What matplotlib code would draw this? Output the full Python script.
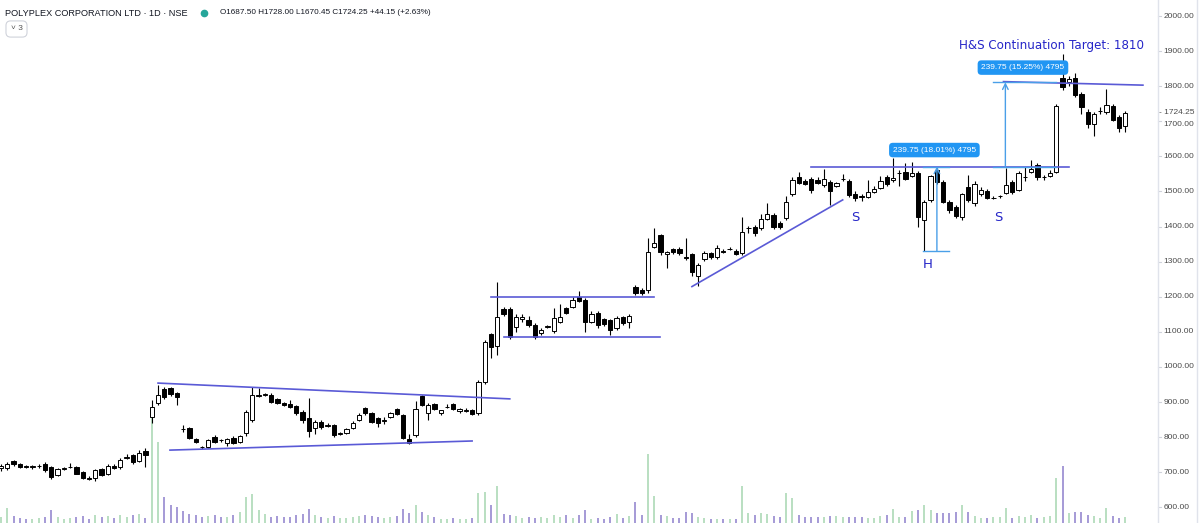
import matplotlib
matplotlib.use("Agg")
import matplotlib.pyplot as plt
import numpy as np

plt.rcParams['font.family'] = ['Liberation Sans', 'DejaVu Sans']

# daily candles
opens = [711, 711, 731, 722, 716, 715, 717, 724, 714, 691, 710, 714, 714, 701, 683, 683, 708, 696, 718, 714,
         741, 748, 731, 760, 858, 898, 936, 940, 926, 824, 826, 794, 772, 771, 800, 793, 784, 797, 786, 811,
         848, 918, 921, 920, 908, 897, 894, 888, 871, 854, 826, 843, 833, 834, 810, 811, 826, 848, 882, 868,
         854, 847, 857, 879, 863, 794, 806, 917, 868, 894, 868, 885, 894, 874, 875, 876, 868, 957, 1094, 1059,
         1165, 1165, 1114, 1136, 1134, 1119, 1096, 1115, 1102, 1128, 1168, 1171, 1199, 1191, 1128, 1154, 1136, 1134, 1111, 1142,
         1128, 1228, 1219, 1219, 1342, 1376, 1322, 1336, 1336, 1313, 1322, 1259, 1307, 1324, 1313, 1331, 1335, 1331, 1324, 1395,
         1399, 1396, 1421, 1433, 1410, 1424, 1493, 1541, 1530, 1536, 1533, 1519, 1527, 1516, 1535, 1530, 1493, 1486, 1485, 1499,
         1510, 1541, 1534, 1552, 1556, 1544, 1553, 1419, 1476, 1561, 1527, 1470, 1456, 1427, 1513, 1467, 1493, 1501, 1481, 1486,
         1496, 1527, 1504, 1540, 1556, 1576, 1540, 1544, 1556, 1823, 1812, 1823, 1778, 1727, 1692, 1728, 1727, 1744, 1713, 1687.5]
highs = [724, 728, 736, 726, 721, 720, 723, 728, 718, 712, 715, 726, 718, 704, 688, 710, 711, 724, 722, 740,
         752, 752, 764, 768, 905, 948, 942, 944, 930, 834, 830, 798, 776, 796, 806, 796, 798, 802, 806, 876,
         942, 940, 926, 926, 912, 900, 906, 892, 876, 911, 848, 848, 840, 838, 815, 826, 846, 870, 886, 872,
         858, 856, 872, 884, 866, 808, 902, 920, 896, 898, 878, 894, 898, 884, 882, 880, 962, 1076, 1098, 1242,
         1172, 1170, 1150, 1152, 1144, 1126, 1110, 1120, 1168, 1180, 1172, 1198, 1216, 1196, 1160, 1158, 1140, 1138, 1145, 1146,
         1152, 1233, 1224, 1367, 1396, 1380, 1330, 1340, 1342, 1367, 1326, 1296, 1330, 1328, 1348, 1336, 1342, 1336, 1427, 1402,
         1404, 1436, 1467, 1440, 1416, 1487, 1540, 1556, 1536, 1542, 1540, 1564, 1532, 1528, 1550, 1536, 1500, 1492, 1533, 1516,
         1544, 1548, 1595, 1560, 1581, 1584, 1558, 1476, 1548, 1571, 1532, 1476, 1462, 1496, 1547, 1530, 1512, 1506, 1488, 1490,
         1567, 1532, 1558, 1570, 1590, 1580, 1548, 1560, 1748, 1892, 1830, 1839, 1784, 1734, 1726, 1740, 1792, 1750, 1718, 1728]
lows = [704, 706, 718, 712, 711, 710, 712, 702, 681, 688, 706, 711, 694, 680, 678, 676, 688, 692, 708, 710,
        737, 724, 728, 714, 840, 892, 910, 918, 891, 816, 794, 783, 766, 768, 782, 786, 776, 780, 782, 804,
        842, 914, 916, 898, 895, 888, 884, 864, 840, 800, 808, 824, 830, 800, 806, 808, 822, 845, 864, 840,
        828, 838, 854, 862, 795, 779, 800, 888, 848, 876, 864, 882, 876, 870, 872, 862, 864, 952, 1025, 1034,
        1146, 1080, 1100, 1128, 1114, 1080, 1090, 1112, 1098, 1124, 1150, 1168, 1184, 1100, 1124, 1112, 1118, 1090, 1104, 1120,
        1112, 1206, 1204, 1212, 1338, 1320, 1282, 1322, 1320, 1304, 1258, 1232, 1302, 1308, 1308, 1324, 1332, 1318, 1320, 1382,
        1374, 1390, 1418, 1394, 1394, 1420, 1488, 1520, 1518, 1496, 1520, 1512, 1461, 1512, 1530, 1484, 1472, 1474, 1482, 1496,
        1506, 1516, 1528, 1516, 1532, 1540, 1399, 1331, 1470, 1520, 1466, 1440, 1424, 1419, 1470, 1460, 1488, 1478, 1478, 1482,
        1492, 1494, 1500, 1530, 1552, 1534, 1532, 1540, 1552, 1790, 1800, 1770, 1720, 1680, 1659, 1722, 1722, 1702, 1670, 1670.45]
closes = [718, 724, 724, 716, 715, 716, 718, 706, 686, 708, 711, 716, 696, 684, 682, 706, 691, 719, 712, 736,
          742, 728, 754, 748, 886, 921, 914, 923, 914, 823, 797, 786, 771, 791, 786, 791, 794, 783, 803, 871,
          919, 920, 922, 900, 898, 891, 886, 868, 848, 817, 843, 828, 834, 806, 811, 823, 840, 863, 868, 843,
          840, 848, 868, 866, 797, 783, 879, 891, 891, 880, 876, 886, 880, 880, 876, 866, 958, 1071, 1056, 1142,
          1151, 1085, 1142, 1142, 1119, 1085, 1105, 1116, 1139, 1142, 1154, 1191, 1188, 1128, 1151, 1119, 1122, 1105, 1139, 1125,
          1145, 1211, 1211, 1327, 1353, 1327, 1327, 1327, 1324, 1310, 1271, 1290, 1325, 1313, 1339, 1328, 1336, 1322, 1384, 1396,
          1382, 1421, 1436, 1399, 1399, 1470, 1533, 1524, 1522, 1504, 1524, 1536, 1501, 1524, 1536, 1490, 1482, 1484, 1499, 1507,
          1530, 1521, 1537, 1554, 1536, 1553, 1427, 1470, 1544, 1527, 1470, 1447, 1430, 1493, 1476, 1521, 1504, 1482, 1482, 1487,
          1518, 1498, 1553, 1541, 1564, 1541, 1541, 1553, 1744, 1798, 1821, 1776, 1741, 1692, 1721, 1730, 1747, 1704, 1680.1, 1724.25]
# volume in thousands of shares
volumes = [60, 150, 70, 50, 40, 40, 50, 60, 130, 60, 40, 50, 60, 70, 40, 80, 60, 70, 50, 80, 60, 80, 90, 50,
           1130, 810, 260, 180, 160, 120, 90, 80, 60, 70, 80, 60, 60, 80, 110, 260,
           290, 130, 90, 60, 70, 60, 60, 80, 90, 140, 80, 60, 50, 70, 50, 50, 60, 70, 80, 70, 60, 50, 60, 70, 140, 100, 180, 110, 80, 60,
           40, 40, 50, 40, 40, 50, 300, 310, 180, 370, 90, 80, 70, 50, 60, 50, 60, 50, 80, 60, 80, 50, 80, 130, 40, 50, 40, 60, 90, 50,
           70, 210, 80, 690, 270, 80, 70, 50, 50, 110, 100, 60, 50, 40, 40, 40, 40, 40, 370, 100, 80, 100, 90, 70, 60, 300, 250, 80, 60, 60,
           60, 60, 70, 70, 60, 60, 60, 60, 50, 50, 70, 80, 140, 60, 60, 120, 130, 180, 130, 100, 100, 100, 110, 180, 110, 70, 50, 50, 60, 60,
           150, 50, 70, 60, 80, 50, 60, 70, 450, 570, 100, 110, 110, 80, 70, 50, 150, 70, 50, 60]

price_ticks = [2000, 1900, 1800, 1700, 1600, 1500, 1400, 1300, 1200, 1100, 1000, 900, 800, 700, 600]
last_price = 1724.25

# drawn trendlines (start index, start price, end index, end price)
trendlines = [
    (25.0, 954, 81.0, 909),
    (26.9, 763, 75.0, 789),
    (78.0, 1200, 103.9, 1200),
    (80.0, 1084, 104.9, 1084),
    (110.0, 1229, 134.0, 1476),
    (129.0, 1571, 170.0, 1571),
    (159.6, 1813, 181.8, 1803),
]
pattern_labels = [("S", 136.0, 1427), ("H", 147.5, 1293), ("S", 158.8, 1427)]
neckline = 1571
head_low = 1331
target = 1811

W, H = 1200, 523
fig = plt.figure(figsize=(W / 100, H / 100), dpi=100)
rect = [0, 0, 1158 / W, 1]

axv = fig.add_axes(rect)
ax = fig.add_axes(rect)
ax.patch.set_alpha(0)

n = len(closes)
idx = np.arange(n)
o = np.array(opens); c = np.array(closes); hi = np.array(highs); lo = np.array(lows)
up = c >= o

# volume
vcol = np.where(up, '#a6d6b0', '#8d7fcc')
axv.vlines(idx, 0, volumes, colors=vcol, lw=1.1, snap=True)
axv.set_ylim(0, 5230)
axv.set_xlim(-0.16, 184.2)
axv.axis('off')

# candles
ax.vlines(idx, lo, hi, colors='black', lw=0.8, zorder=2)
body_lo = np.minimum(o, c)
body_h = np.maximum(np.abs(c - o), 1.5)
ax.bar(idx[up], body_h[up], 0.68, bottom=body_lo[up], facecolor='white', edgecolor='black', lw=0.7, zorder=3)
ax.bar(idx[~up], body_h[~up], 0.68, bottom=body_lo[~up], facecolor='black', edgecolor='black', lw=0.7, zorder=3)

ax.set_xlim(-0.16, 184.2)
ax.set_ylim(555.3, 2045.6)
ax.axis('off')

line_col = '#5a5ad6'
for x0, y0, x1, y1 in trendlines:
    ax.plot([x0, x1], [y0, y1], color=line_col, lw=1.2, zorder=4)

for t, x, y in pattern_labels:
    ax.text(x, y, t, color='#2626c8', fontsize=9.5, ha='center', va='center', family='DejaVu Sans')

ax.text(167.3, 1917, "H&S Continuation Target: 1810", color='#2626c8', fontsize=8.6,
        ha='center', va='center', family='DejaVu Sans')

# price range tools
meas_col = '#4a9fe8'
for xc, x0, x1, bottom, top, lbl, ly in [
        (149.0, 146.8, 151.0, head_low, neckline, "239.75 (18.01%) 4795", 1618),
        (159.9, 158.0, 168.0, neckline, target, "239.75 (15.25%) 4795", 1853)]:
    ax.plot([x0, x1], [bottom, bottom], color=meas_col, lw=1, zorder=4)
    ax.plot([x0, x1], [top, top], color=meas_col, lw=1, zorder=4)
    ax.annotate('', xy=(xc, top), xytext=(xc, bottom),
                arrowprops=dict(arrowstyle='->', color=meas_col, lw=1, shrinkA=0, shrinkB=0), zorder=4)
    ax.text((x0 + x1) / 2 - 0.3, ly, lbl, color='white', fontsize=6, ha='center', va='center', zorder=6,
            bbox=dict(boxstyle='round,pad=0.45', fc='#2196f3', ec='none'))

# right price scale
fig.add_artist(plt.Line2D([1158 / W, 1158 / W], [0, 1], color='#e0e3eb', lw=1))
fig.add_artist(plt.Line2D([1197 / W, 1197 / W], [0, 1], color='#e0e3eb', lw=1))
ytr = ax.get_yaxis_transform()
for p in price_ticks:
    yy = p - 10 if p == 1700 else p
    ax.text(1.0045, yy, f"{p:.2f}", transform=ytr, fontsize=6, color='#4a4a4a', va='center', ha='left', clip_on=False)
    ax.plot([1.0, 1.003], [p, p], transform=ytr, color='#d0d3db', lw=0.8, clip_on=False)
ax.text(1.0005, last_price, f"- {last_price:.2f}", transform=ytr, fontsize=6, color='#4a4a4a',
        va='center', ha='left', clip_on=False)

# header
fig.text(5 / W, 1 - 13 / H, "POLYPLEX CORPORATION LTD · 1D · NSE", fontsize=6.6, color='#131722', va='center')
fig.add_artist(plt.Line2D([204 / W], [1 - 13 / H], marker='o', markersize=4.5, color='#26a69a',
                          transform=fig.transFigure))
fig.text(220 / W, 1 - 13 / H, "O1687.50 H1728.00 L1670.45 C1724.25 +44.15 (+2.63%)",
         fontsize=5.9, color='#131722', va='center')
fig.text(16.5 / W, 1 - 29 / H, "˅ 3", fontsize=6, color='#555555', va='center', ha='center',
         bbox=dict(boxstyle='round,pad=0.55', fc='white', ec='#d0d3db', lw=0.8))

fig.savefig('out.png', dpi=100)
